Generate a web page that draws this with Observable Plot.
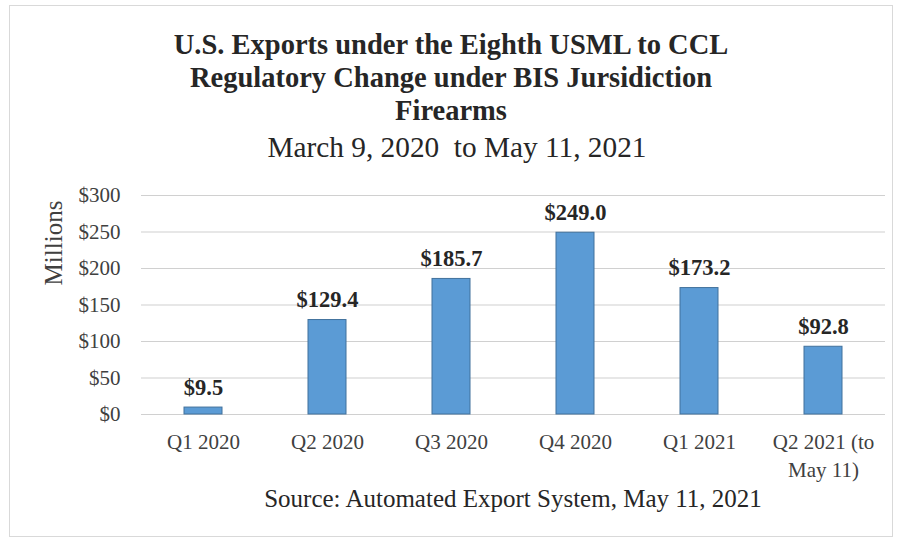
<!DOCTYPE html>
<html>
<head>
<meta charset="utf-8">
<script src="https://cdn.jsdelivr.net/npm/d3@7"></script>
<script src="https://cdn.jsdelivr.net/npm/@observablehq/plot@0.6"></script>
<style>
  html, body { margin: 0; padding: 0; background: #fff; }
  #page { position: relative; width: 900px; height: 544px; overflow: hidden; font-family: "Liberation Serif", "Times New Roman", serif; color: #262626; }
  #frame { position: absolute; left: 9px; top: 5px; width: 884px; height: 532px; border: 1px solid #d9d9d9; box-sizing: border-box; }
  #title { position: absolute; left: 9px; width: 884px; top: 28px; text-align: center; font-weight: bold; font-size: 28.5px; line-height: 33px; }
  #subtitle { position: absolute; left: 15px; width: 884px; top: 131px; text-align: center; font-size: 29.3px; line-height: 32px; }
  #ylabel { position: absolute; left: 54px; top: 243px; transform: translate(-50%, -50%) rotate(-90deg); font-size: 25px; white-space: nowrap; color: #404040; }
  #chart { position: absolute; left: 0; top: 170px; }
  #caption { position: absolute; left: 141px; width: 744px; top: 485px; text-align: center; font-size: 25px; line-height: 28px; color: #262626; }
</style>
</head>
<body>
<div id="page">
  <div id="frame"></div>
  <div id="title">U.S. Exports under the Eighth USML to CCL<br>Regulatory Change under BIS Jursidiction<br>Firearms</div>
  <div id="subtitle">March 9, 2020&nbsp; to May 11, 2021</div>
  <div id="ylabel">Millions</div>
  <div id="chart"></div>
  <div id="caption">Source: Automated Export System, May 11, 2021</div>
</div>
<script>
const categories = ["Q1 2020", "Q2 2020", "Q3 2020", "Q4 2020", "Q1 2021", "Q2 2021 (to May 11)"];
const tickLabels = ["Q1 2020", "Q2 2020", "Q3 2020", "Q4 2020", "Q1 2021", "Q2 2021 (to\nMay 11)"];
const values = [9.5, 129.4, 185.7, 249.0, 173.2, 92.8];
const yTicks = [0, 50, 100, 150, 200, 250, 300];

const data = categories.map((c, i) => ({category: c, value: values[i]}));
const labelOf = new Map(categories.map((c, i) => [c, tickLabels[i]]));

const chart = Plot.plot({
  width: 900,
  height: 320,
  marginLeft: 141,
  marginRight: 15,
  marginTop: 25,
  marginBottom: 76,
  style: {fontFamily: '"Liberation Serif", "Times New Roman", serif', fontSize: "21px", color: "#404040", background: "transparent", overflow: "visible"},
  x: {domain: categories, paddingInner: 0.69, paddingOuter: 0.345, label: null},
  y: {domain: [0, 300], label: null},
  marks: [
    Plot.gridY(yTicks, {stroke: "#d0d0d0", strokeOpacity: 1, strokeWidth: 1.2}),
    Plot.axisY(yTicks, {tickSize: 0, tickPadding: 21, tickFormat: d => "$" + d, fontSize: 21, fill: "#404040"}),
    Plot.axisX({tickSize: 0, tickPadding: 15, tickFormat: d => labelOf.get(d), fontSize: 21, fill: "#404040", lineHeight: 1.33}),
    Plot.barY(data, {x: "category", y: "value", fill: "#5b9bd5", stroke: "#41719c", strokeWidth: 1}),
    Plot.text(data, {x: "category", y: "value", text: d => "$" + d.value.toFixed(1), dy: -20, fontWeight: "bold", fontSize: 22.5, fill: "#262626"})
  ]
});
document.getElementById("chart").appendChild(chart);
</script>
</body>
</html>
